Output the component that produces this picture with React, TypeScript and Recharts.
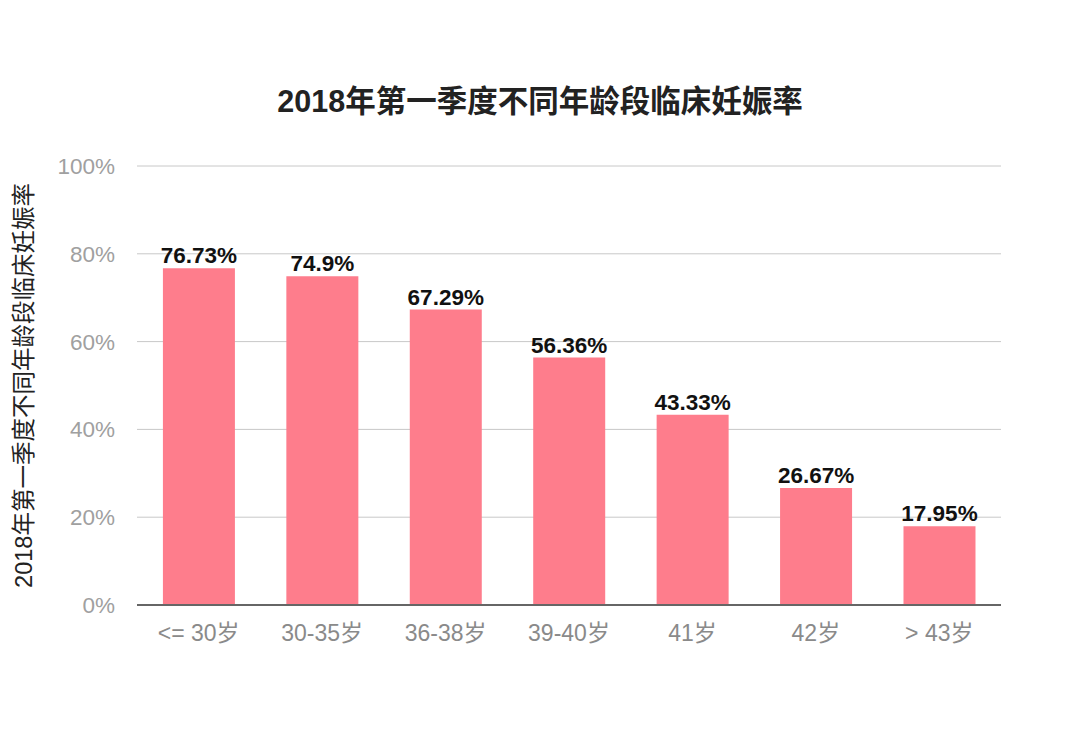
import React from 'react';
import { BarChart, Bar, XAxis, YAxis, CartesianGrid, LabelList, Label } from 'recharts';

const categories = ['<= 30岁', '30-35岁', '36-38岁', '39-40岁', '41岁', '42岁', '> 43岁'];
const values = [76.73, 74.9, 67.29, 56.36, 43.33, 26.67, 17.95];
const yTicks = [0, 20, 40, 60, 80, 100];
const title = '2018年第一季度不同年龄段临床妊娠率';
const yLabel = '2018年第一季度不同年龄段临床妊娠率';

const data = categories.map((c, i) => ({ name: c, value: values[i] }));

const FONT = '"Liberation Sans", Arial, "Noto Sans CJK SC", sans-serif';

export default function App() {
  return (
    <div style={{ position: 'fixed', left: 0, top: 0, width: 1080, height: 753, background: '#fff', fontFamily: FONT }}>
      <div
        style={{
          position: 'absolute',
          left: 0,
          top: 82,
          width: 1080,
          textAlign: 'center',
          fontSize: 30.5,
          fontWeight: 'bold',
          color: '#222',
          lineHeight: '38px',
        }}
      >
        {title}
      </div>
      <BarChart
        width={1080}
        height={753}
        data={data}
        margin={{ top: 166, right: 79, left: 0, bottom: 0 }}
        barCategoryGap="21%"
        style={{ position: 'absolute', left: 0, top: 0, fontFamily: FONT }}
      >
        <CartesianGrid vertical={false} stroke="#c8c8c8" strokeWidth={1} />
        <XAxis
          dataKey="name"
          height={148}
          axisLine={{ stroke: '#666', strokeWidth: 2 }}
          tickLine={false}
          tickMargin={14}
          tick={{ fill: '#8a8a8a', fontSize: 23 }}
        />
        <YAxis
          width={137}
          domain={[0, 100]}
          ticks={yTicks}
          tickFormatter={(v) => `${v}%`}
          axisLine={false}
          tickLine={false}
          tickMargin={16}
          tick={{ fill: '#a0a0a0', fontSize: 22.5 }}
        >
          <Label
            value={yLabel}
            angle={-90}
            position="insideLeft"
            offset={24}
            style={{ fill: '#222', fontSize: 23.5, textAnchor: 'middle' }}
          />
        </YAxis>
        <Bar dataKey="value" fill="#FE7D8C" isAnimationActive={false}>
          <LabelList
            dataKey="value"
            position="top"
            offset={5}
            formatter={(v) => `${v}%`}
            style={{ fill: '#111', fontSize: 22.5, fontWeight: 'bold' }}
          />
        </Bar>
      </BarChart>
    </div>
  );
}
